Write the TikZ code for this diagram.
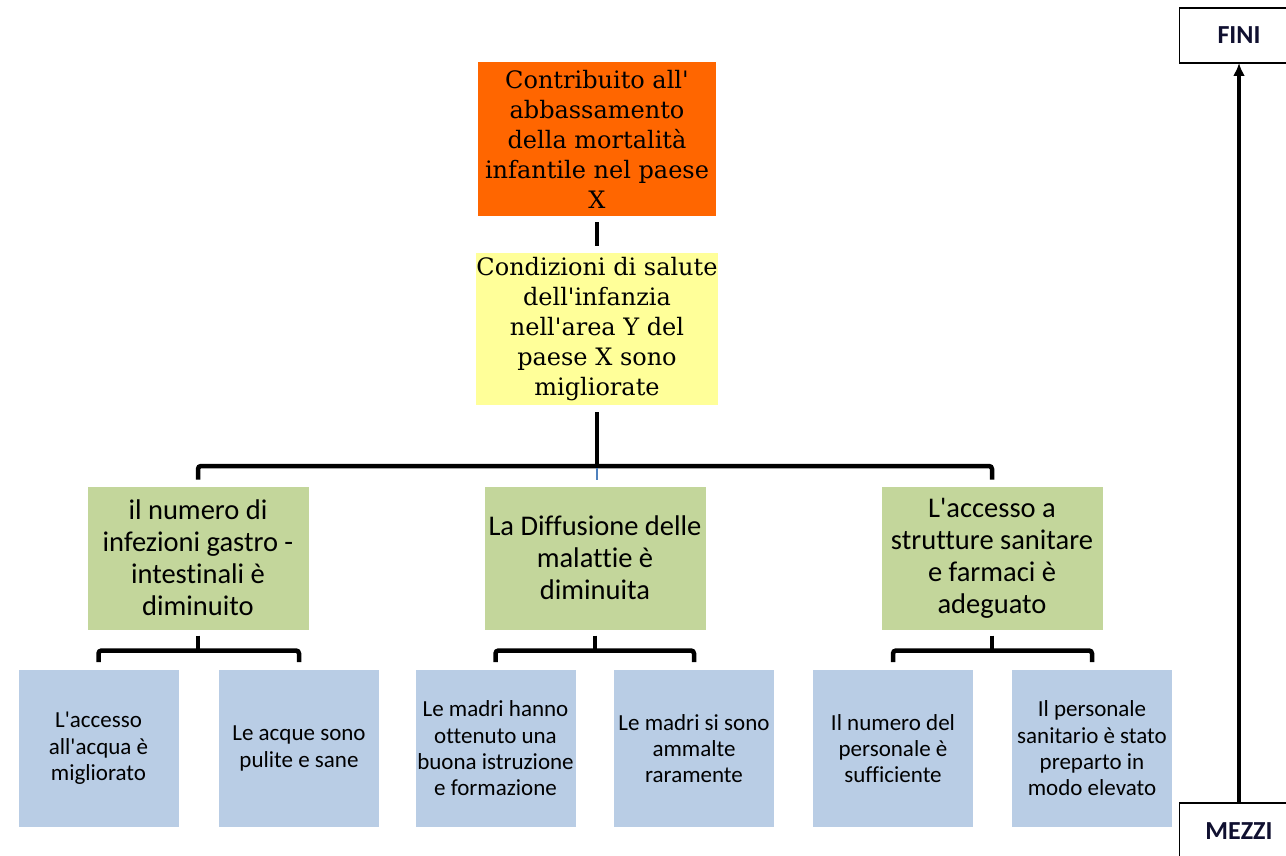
\documentclass[tikz,border=0pt]{standalone}
\usepackage{fontspec}
\newfontfamily\sansf{Carlito}[Ligatures=NoCommon]
\newfontfamily\topfont{DejaVu Serif}
\usetikzlibrary{arrows.meta}
\definecolor{orangebox}{HTML}{FF6600}
\definecolor{yellowbox}{HTML}{FFFF99}
\definecolor{greenbox}{HTML}{C3D69B}
\definecolor{bluebox}{HTML}{B9CDE5}
\definecolor{midblue}{HTML}{4F81BD}
\definecolor{navytext}{HTML}{101030}
\tikzset{
  box/.style={inner sep=0pt, outer sep=0pt, align=center, text=black},
  topbox/.style={box, minimum width=238pt, minimum height=154pt,
    font=\topfont\fontsize{24}{30}\selectfont},
  greenb/.style={box, fill=greenbox, minimum width=221pt, minimum height=143pt,
    font=\sansf\fontsize{28.5}{32}\selectfont},
  blueb/.style={box, fill=bluebox, minimum width=160pt, minimum height=157pt,
    font=\sansf\fontsize{23}{26.3}\selectfont},
  labelbox/.style={box, draw=black, line width=1.2pt, fill=white, text=navytext,
    minimum width=119pt, font=\sansf\bfseries\fontsize{26}{28}\selectfont},
  conn/.style={line width=4.5pt, black},
  subconn/.style={line width=4.5pt, black, rounded corners=3pt},
}
\begin{document}
\begin{tikzpicture}[x=1pt,y=-1pt]
\useasboundingbox (0,0) rectangle (1286,856);
% top boxes
\node[topbox, fill=orangebox] (o) at (597,139) {Contribuito all'\\abbassamento\\della mortalità\\infantile nel paese\\X};
\node[topbox, fill=yellowbox, minimum width=242pt, minimum height=152pt] (y) at (597,329) {Condizioni di salute\\dell'infanzia\\nell'area Y del\\paese X sono\\migliorate};
% green boxes
\node[greenb] (g1) at (198,558) {il numero di\\infezioni gastro -\\intestinali è\\diminuito};
\node[greenb] (g2) at (595,558) {La Diffusione delle\\malattie è\\diminuita};
\node[greenb] (g3) at (992,558) {L'accesso a\\strutture sanitare\\e farmaci è\\adeguato};
% blue boxes
\node[blueb] (b1) at (98.5,748.5) {L'accesso\\all'acqua è\\migliorato};
\node[blueb] (b2) at (299,748.5) {Le acque sono\\pulite e sane};
\node[blueb] (b3) at (495.5,748.5) {Le madri hanno\\ottenuto una\\buona istruzione\\e formazione};
\node[blueb] (b4) at (694,748.5) {Le madri si sono\\ammalte\\raramente};
\node[blueb] (b5) at (893,748.5) {Il numero del\\personale è\\sufficiente};
\node[blueb] (b6) at (1092,748.5) {Il personale\\sanitario è stato\\preparto in\\modo elevato};
% FINI / MEZZI
\node[labelbox, minimum height=55pt] (fini) at (1239,35.5) {FINI};
\node[labelbox, minimum height=56pt, anchor=north] (mezzi) at (1239,803) {MEZZI};
\draw[line width=3.5pt, -{Latex[length=13pt,width=12pt]}] (mezzi.north) -- (fini.south);
% connectors
\draw[conn, shorten <=6pt, shorten >=7pt] (o.south) -- (y.north);
\coordinate (bus) at (597,466);
\path (y.south) ++(0,7) coordinate (ys);
\path (g1.north) ++(0,-7) coordinate (g1t);
\path (g3.north) ++(0,-7) coordinate (g3t);
\path (g2.north) ++(0,-7) coordinate (g2t);
\draw[conn] (ys) -- (bus);
\draw[subconn] (g1t) -- (g1t |- bus) -- (g3t |- bus) -- (g3t);
\draw[midblue, line width=2.5pt] ([yshift=-2pt]bus) -- (bus |- g2t);
% sub connectors
\foreach \g/\l/\r in {g1/b1/b2, g2/b3/b4, g3/b5/b6}{
  \path (\g.south) ++(0,6) coordinate (\g s);
  \path (\g.south) ++(0,21) coordinate (\g bar);
  \path (\l.north) ++(0,-8) coordinate (\l t);
  \path (\r.north) ++(0,-8) coordinate (\r t);
  \draw[conn] (\g s) -- (\g bar);
  \draw[subconn] (\l t) -- (\l t |- \g bar) -- (\r t |- \g bar) -- (\r t);
}
\end{tikzpicture}
\end{document}
